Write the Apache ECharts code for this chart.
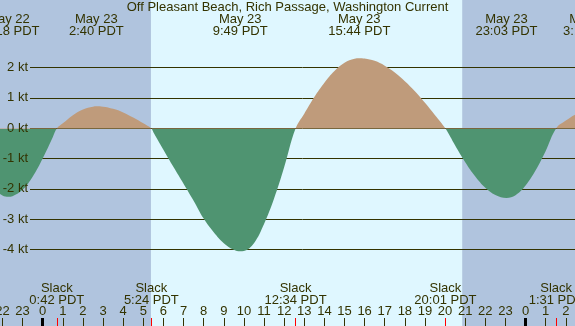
<!DOCTYPE html>
<html>
<head>
<meta charset="utf-8">
<script src="https://cdn.jsdelivr.net/npm/echarts@6/dist/echarts.min.js"></script>
<style>
  html, body { margin: 0; padding: 0; }
  #main { width: 575px; height: 326px; }
</style>
</head>
<body>
<div id="main"></div>
<script>
// hours since midnight May 23 (PDT) and current speed in knots (+ flood, - ebb)
const hours = [-2.5, -2.0, -1.7, -1.5, -1.0, -0.5, 0, 0.5, 0.7,
  1.0, 1.5, 2.0, 2.5, 2.667, 3.0, 3.5, 4.0, 4.5, 5.0, 5.4,
  5.5, 6.0, 6.5, 7.0, 7.5, 8.0, 8.5, 9.0, 9.5, 9.817, 10.0, 10.5, 11.0, 11.5, 12.0, 12.567,
  13.0, 13.5, 14.0, 14.5, 15.0, 15.5, 15.733, 16.0, 16.5, 17.0, 17.5, 18.0, 18.5, 19.0, 19.5, 20.017,
  20.5, 21.0, 21.5, 22.0, 22.5, 23.05, 23.5, 24.0, 24.5, 25.0, 25.517,
  26.0, 26.5, 27.0];
const knots = [-1.95, -2.21, -2.25, -2.23, -2.02, -1.59, -0.99, -0.29, 0,
  0.17, 0.44, 0.63, 0.72, 0.73, 0.72, 0.65, 0.53, 0.36, 0.17, 0,
  -0.12, -0.70, -1.27, -1.82, -2.38, -2.97, -3.42, -3.78, -4.0, -4.05, -4.04, -3.78, -3.15, -2.31, -1.28, 0,
  0.49, 1.04, 1.51, 1.90, 2.17, 2.30, 2.32, 2.31, 2.23, 2.07, 1.85, 1.56, 1.23, 0.85, 0.44, 0,
  -0.56, -1.11, -1.58, -1.95, -2.19, -2.29, -2.20, -1.88, -1.38, -0.74, 0,
  0.26, 0.47, 0.59];

const slackHours = [0.7, 5.4, 12.567, 20.017, 25.517];
const slackLabels = ['0:42 PDT', '5:24 PDT', '12:34 PDT', '20:01 PDT', '1:31 PDT'];
const peakHours = [-1.7, 2.667, 9.817, 15.733, 23.05, 27.23];
const peakLabels = ['May 22\n22:18 PDT', 'May 23\n2:40 PDT', 'May 23\n9:49 PDT',
  'May 23\n15:44 PDT', 'May 23\n23:03 PDT', 'May 24\n3:14 PDT'];
const hourTicks = [-2, -1, 0, 1, 2, 3, 4, 5, 6, 7, 8, 9, 10, 11, 12, 13, 14,
  15, 16, 17, 18, 19, 20, 21, 22, 23, 24, 25, 26];
const midnightTicks = [0, 24];
const sunrise = 5.38;
const sunset = 20.85;

const hourMin = -2.122, hourMax = 26.456;
const kMin = -6.512, kMax = 4.237;
const pxPerHour = 575 / (hourMax - hourMin);

const ink = '#333300';
const font = 'Liberation Sans, Arial, sans-serif';
const night = '#b0c4de';
const day = '#dff7ff';

const chartDom = document.getElementById('main');
const myChart = echarts.init(chartDom);

const hiddenLine = { show: false, onZero: false };

function lookup(list, labels, v) {
  for (let i = 0; i < list.length; i++) {
    if (Math.abs(list[i] - v) < 1e-6) return labels[i];
  }
  return '';
}

const option = {
  animation: false,
  backgroundColor: day,
  title: {
    text: 'Off Pleasant Beach, Rich Passage, Washington Current',
    left: 'center',
    top: 0,
    padding: 0,
    textStyle: { fontSize: 13, fontWeight: 'normal', color: ink, fontFamily: font, lineHeight: 14 },
  },
  grid: [
    { left: 0, right: 0, top: 0, bottom: 0, outerBoundsMode: 'none', containLabel: false },
    { left: 30, right: 0, top: 67.5, bottom: 76.5, outerBoundsMode: 'none', containLabel: false },
    { left: 0, right: -100, top: 0, bottom: 0, outerBoundsMode: 'none', containLabel: false },
  ],
  xAxis: [
    {
      type: 'value', gridIndex: 0, position: 'bottom', min: hourMin, max: hourMax, z: 4,
      axisLine: hiddenLine, splitLine: { show: false },
      axisTick: { customValues: hourTicks, inside: true, length: 8, lineStyle: { color: ink } },
      axisLabel: {
        customValues: hourTicks, inside: true, margin: 9, color: ink, fontSize: 13, fontFamily: font,
        lineHeight: 12, formatter: (v) => String(((v % 24) + 24) % 24),
      },
    },
    {
      type: 'value', gridIndex: 0, position: 'bottom', min: hourMin, max: hourMax, z: 4,
      axisLine: hiddenLine, splitLine: { show: false }, axisLabel: { show: false },
      axisTick: { customValues: midnightTicks, inside: true, length: 8, lineStyle: { color: '#000', width: 3 } },
    },
    {
      type: 'value', gridIndex: 0, position: 'bottom', min: hourMin, max: hourMax, z: 4,
      axisLine: hiddenLine, splitLine: { show: false }, axisLabel: { show: false },
      axisTick: { customValues: slackHours, inside: true, length: 8, lineStyle: { color: '#ff0000', width: 1 } },
    },
    {
      type: 'value', gridIndex: 0, position: 'bottom', min: hourMin, max: hourMax, z: 4,
      axisLine: hiddenLine, splitLine: { show: false }, axisTick: { show: false },
      axisLabel: {
        customValues: slackHours, inside: true, margin: 20, color: ink, fontSize: 13, fontFamily: font,
        lineHeight: 12, formatter: (v) => 'Slack\n' + lookup(slackHours, slackLabels, v),
      },
    },
    {
      type: 'value', gridIndex: 2, position: 'top', min: hourMin,
      max: hourMin + 675 / pxPerHour, z: 4,
      axisLine: hiddenLine, splitLine: { show: false }, axisTick: { show: false },
      axisLabel: {
        customValues: peakHours, inside: true, margin: 13, color: ink, fontSize: 13, fontFamily: font,
        lineHeight: 12, formatter: (v) => lookup(peakHours, peakLabels, v),
      },
    },
    { type: 'value', gridIndex: 1, show: false, min: 0, max: 1 },
  ],
  yAxis: [
    { type: 'value', gridIndex: 0, show: false, min: kMin, max: kMax },
    {
      type: 'value', gridIndex: 1, position: 'left', min: -4, max: 2, interval: 1, z: 2,
      axisLine: hiddenLine, axisTick: { show: false }, axisLabel: { show: false },
      splitLine: { lineStyle: { color: ink, width: 1 } },
    },
    {
      type: 'value', gridIndex: 1, position: 'left', min: -4, max: 2, interval: 1, z: 5,
      axisLine: hiddenLine, axisTick: { show: false }, splitLine: { show: false },
      axisLabel: { margin: 2, color: ink, fontSize: 13, fontFamily: font, formatter: '{value} kt' },
    },
    { type: 'value', gridIndex: 2, show: false, min: 0, max: 1 },
  ],
  visualMap: {
    type: 'piecewise',
    show: false,
    seriesIndex: 0,
    dimension: 1,
    pieces: [
      { gte: -10, lt: 0, color: '#4f9471' },
      { gte: 0, lte: 10, color: '#bf9b7b' },
    ],
  },
  series: [
    {
      type: 'line',
      xAxisIndex: 0,
      yAxisIndex: 0,
      z: 3,
      data: hours.map((h, i) => [h, knots[i]]),
      smooth: 0.4,
      showSymbol: false,
      symbol: 'none',
      lineStyle: { width: 0, opacity: 0 },
      areaStyle: { opacity: 1 },
      silent: true,
      markArea: {
        silent: true,
        z: 1,
        data: [
          [{ xAxis: hourMin, itemStyle: { color: night } }, { xAxis: sunrise }],
          [{ xAxis: sunset, itemStyle: { color: night } }, { xAxis: hourMax }],
        ],
      },
    },
  ],
};

option && myChart.setOption(option);
</script>
</body>
</html>
